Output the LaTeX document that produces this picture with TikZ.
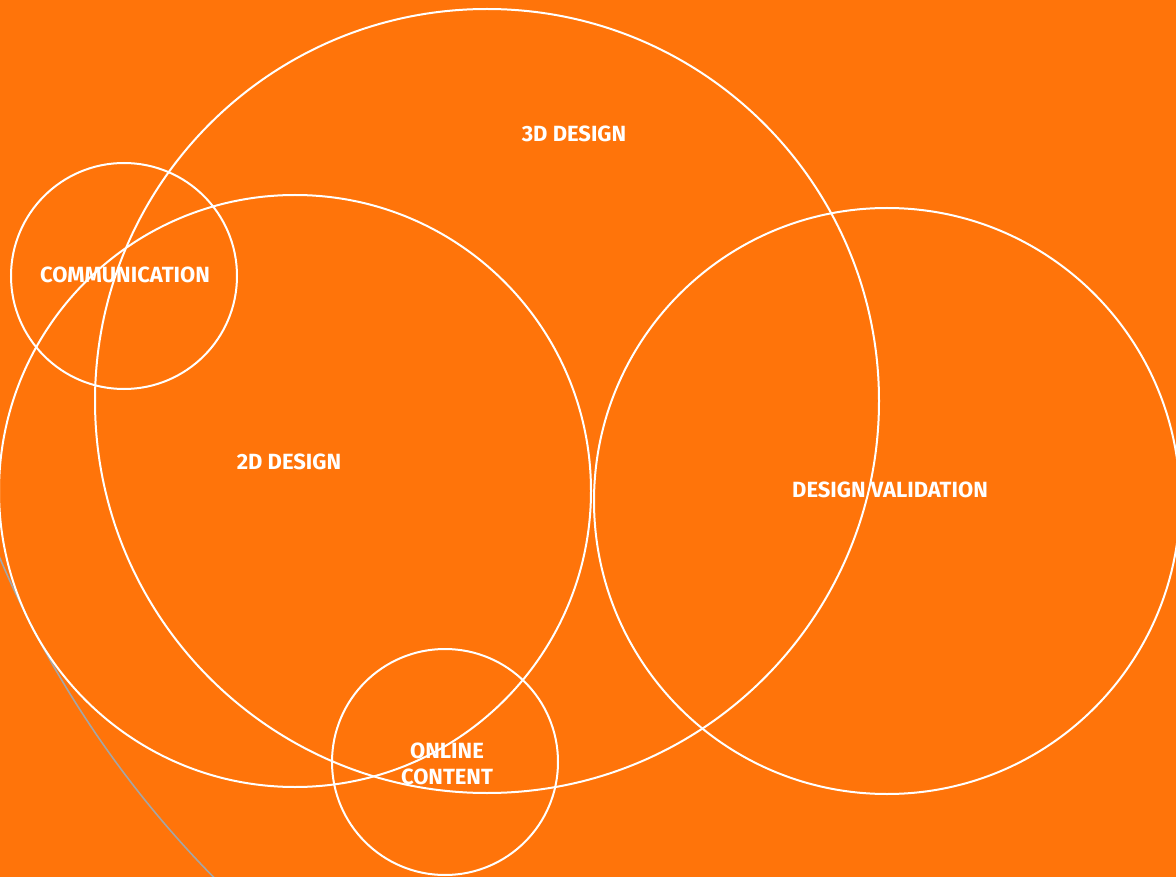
\documentclass[tikz,border=0pt]{standalone}
\usepackage{fontspec}
\setmainfont{Fira Sans}
\definecolor{bgorange}{RGB}{255,116,10}
\definecolor{arcgray}{RGB}{165,165,165}

\begin{document}
\begin{tikzpicture}[x=1pt,y=-1pt,
    ring/.style={circle,draw=white,line width=2pt,inner sep=0pt},
    tag/.style={text=white,font=\fontsize{22}{26}\selectfont\bfseries,align=center,inner sep=0pt}]

            % background and frame
            \fill[bgorange] (0,0) rectangle (1176,877);
            \useasboundingbox (0,0) rectangle (1176,877);
            \clip (0,0) rectangle (1176,877);

            \draw[arcgray,line width=1.6pt] (948,155) circle[radius=1030pt];

            % the circles
            \node[ring,minimum size=784pt] (d3)   at (487,401) {};
            \node[ring,minimum size=592pt] (d2)   at (295,491) {};
            \node[ring,minimum size=226pt] (comm) at (124,276) {};
            \node[ring,minimum size=586pt] (val)  at (887,501) {};
            \node[ring,minimum size=226pt] (web)  at (445,762) {};

            % the labels
            \node[tag] (d3t)   at (574,134) {3D DESIGN};
            \node[tag] (d2t)   at (289,462) {2D DESIGN};
            \node[tag] (commt) at (125,275) {COMMUNICATION};
            \node[tag] (valt)  at (890,490) {DESIGN VALIDATION};
            \node[tag] (webt)  at (447,764) {ONLINE\\CONTENT};

        \end{tikzpicture}
\end{document}
